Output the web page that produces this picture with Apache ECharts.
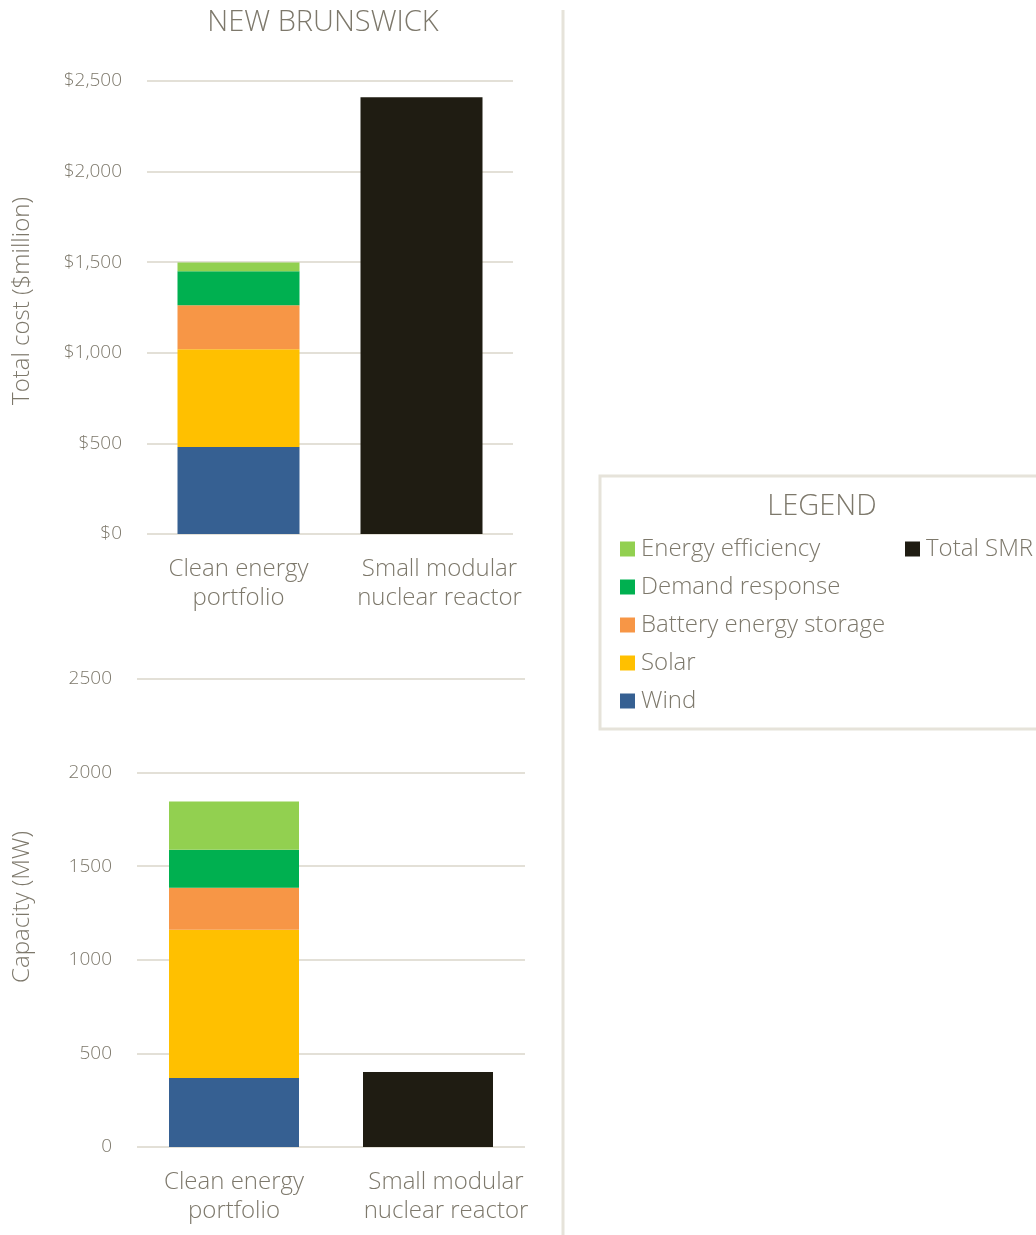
<!DOCTYPE html>
<html><head><meta charset="utf-8">
<script src="https://cdn.jsdelivr.net/npm/echarts@6/dist/echarts.min.js"></script>
<style>html,body{margin:0;padding:0;background:#fff}#c{width:1036px;height:1235px}</style>
</head><body><div id="c"></div>
<script>
const categories = ['Clean energy\nportfolio', 'Small modular\nnuclear reactor'];
const seriesNames = ['Wind', 'Solar', 'Battery energy storage', 'Demand response', 'Energy efficiency'];
const costWind = [480, '-'];
const costSolar = [540, '-'];
const costBattery = [243, '-'];
const costDemand = [187, '-'];
const costEfficiency = [48, '-'];
const costSMR = ['-', 2410];
const capWind = [368, '-'];
const capSolar = [792, '-'];
const capBattery = [225, '-'];
const capDemand = [203, '-'];
const capEfficiency = [257, '-'];
const capSMR = ['-', 400];
const costTicks = [0, 500, 1000, 1500, 2000, 2500];
const capTicks = [0, 500, 1000, 1500, 2000, 2500];

const colors = {
  'Wind': '#366092', 'Solar': '#ffc000', 'Battery energy storage': '#f79646',
  'Demand response': '#00b050', 'Energy efficiency': '#92d050', 'Total SMR': '#1f1c12'
};
const txt = '#7d786b';
const grid = '#e3e0d7';
const font = "'Open Sans', sans-serif";

const costData = [costWind, costSolar, costBattery, costDemand, costEfficiency];
const capData = [capWind, capSolar, capBattery, capDemand, capEfficiency];

const series = [];
seriesNames.forEach((n, i) => {
  series.push({ name: n, type: 'bar', stack: 'cost', xAxisIndex: 0, yAxisIndex: 0, barWidth: 122,
    data: costData[i], itemStyle: { color: colors[n] } });
});
series.push({ name: 'Total SMR', type: 'bar', stack: 'cost', xAxisIndex: 0, yAxisIndex: 0, barWidth: 122,
  data: costSMR, itemStyle: { color: colors['Total SMR'] } });
seriesNames.forEach((n, i) => {
  series.push({ name: n, type: 'bar', stack: 'cap', xAxisIndex: 1, yAxisIndex: 1, barWidth: 130,
    data: capData[i], itemStyle: { color: colors[n] } });
});
series.push({ name: 'Total SMR', type: 'bar', stack: 'cap', xAxisIndex: 1, yAxisIndex: 1, barWidth: 130,
  data: capSMR, itemStyle: { color: colors['Total SMR'] } });

const catData = categories.map((c, i) => i === 1
  ? { value: c, textStyle: { padding: [0, 0, 0, 36] } }
  : { value: c });

const xAx = (gi) => ({
  type: 'category', gridIndex: gi, data: catData,
  axisLine: { show: false }, axisTick: { show: false },
  axisLabel: { interval: 0, color: txt, fontFamily: font, fontSize: 24, fontWeight: 300, lineHeight: 29, margin: 21 }
});
const yAx = (gi, ticks, fmt) => ({
  type: 'value', gridIndex: gi, min: ticks[0], max: ticks[ticks.length - 1], interval: ticks[1] - ticks[0],
  axisLine: { show: false }, axisTick: { show: false },
  splitLine: { lineStyle: { color: grid, width: 2 } },
  axisLabel: { color: txt, fontFamily: font, fontSize: 19, fontWeight: 300, margin: 25, formatter: fmt }
});
const legendText = { color: txt, fontFamily: font, fontSize: 24, fontWeight: 300, lineHeight: 26, padding: [0, 0, 0, 1] };

const chart = echarts.init(document.getElementById('c'));
chart.setOption({
  animation: false,
  grid: [
    { left: 147, top: 81, width: 366, height: 453 },
    { left: 137, top: 679, width: 388, height: 468 }
  ],
  xAxis: [xAx(0), xAx(1)],
  yAxis: [
    yAx(0, costTicks, v => '$' + v.toLocaleString('en-US')),
    yAx(1, capTicks, v => String(v))
  ],
  legend: [
    { data: ['Energy efficiency', 'Demand response', 'Battery energy storage', 'Solar', 'Wind'],
      orient: 'vertical', left: 620, top: 536, padding: 0, itemWidth: 15, itemHeight: 15, itemGap: 12, icon: 'rect',
      selectedMode: false, textStyle: legendText },
    { data: ['Total SMR'], orient: 'vertical', left: 905, top: 536, padding: 0, itemWidth: 15, itemHeight: 15, icon: 'rect',
      selectedMode: false, textStyle: legendText }
  ],
  graphic: [
    { type: 'line', shape: { x1: 563, y1: 10, x2: 563, y2: 1235 }, style: { stroke: '#e6e3da', lineWidth: 3 } },
    { type: 'rect', shape: { x: 600, y: 476, width: 460, height: 253 }, style: { fill: 'none', stroke: '#e6e3da', lineWidth: 3 } },
    { type: 'text', x: 323, y: 23, style: { text: 'NEW BRUNSWICK', fill: txt, font: "300 29px 'Open Sans', sans-serif", textAlign: 'center', textVerticalAlign: 'middle' } },
    { type: 'text', x: 822, y: 507, style: { text: 'LEGEND', fill: txt, font: "300 29px 'Open Sans', sans-serif", textAlign: 'center', textVerticalAlign: 'middle' } },
    { type: 'text', x: 22, y: 301, rotation: Math.PI / 2, style: { text: 'Total cost ($million)', fill: txt, font: "300 24px 'Open Sans', sans-serif", textAlign: 'center', textVerticalAlign: 'middle' } },
    { type: 'text', x: 22, y: 907, rotation: Math.PI / 2, style: { text: 'Capacity (MW)', fill: txt, font: "300 24px 'Open Sans', sans-serif", textAlign: 'center', textVerticalAlign: 'middle' } }
  ],
  series: series
});
</script></body></html>
